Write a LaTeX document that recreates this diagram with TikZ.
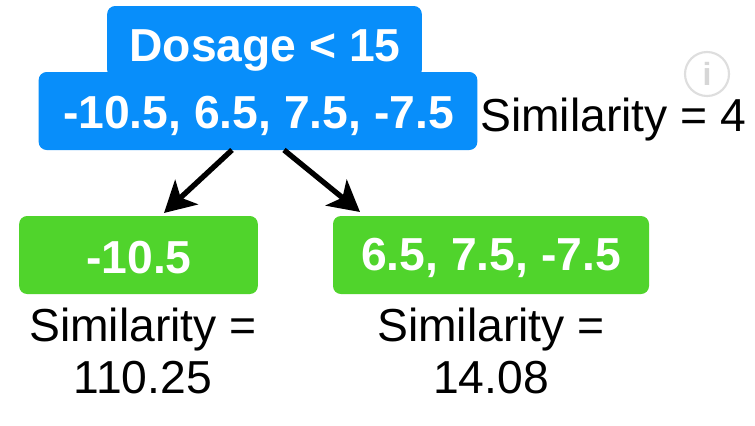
\documentclass[tikz,border=0pt]{standalone}
\usepackage{fontspec}
\setmainfont{Liberation Sans}
\usetikzlibrary{arrows.meta}
\definecolor{bluebox}{RGB}{8,142,250}
\definecolor{greenbox}{RGB}{80,212,44}
\tikzset{
  px/.style={x=0.75pt,y=-0.75pt},
  box/.style={rounded corners=6pt,inner sep=0pt,text=white,font=\bfseries\fontsize{34.7}{34.7}\selectfont},
  boxtext/.style={inner sep=0pt,text=white,font=\bfseries\fontsize{34.7}{34.7}\selectfont},
  lab/.style={inner sep=0pt,text=black,font=\fontsize{34.7}{39.5}\selectfont,align=center},
  arr/.style={line width=4pt,-{Stealth[length=23pt,width=25pt,inset=6pt]}}
}
\begin{document}
\begin{tikzpicture}[px]
\useasboundingbox (0,0) rectangle (755,425);
\fill[white] (0,0) rectangle (755,425);
\node[box,fill=bluebox,minimum width=236pt,minimum height=54pt] (top) at (264.5,42) {};
\node[boxtext] (toplabel) at (265,50) {Dosage < 15};
\node[box,fill=bluebox,minimum width=329pt,minimum height=58.5pt] (main) at (258,111) {};
\node[boxtext] (mainlabel) at (258.5,116) {-10.5, 6.5, 7.5, -7.5};
\node[box,fill=greenbox,minimum width=179pt,minimum height=58.5pt] (left) at (138.5,255) {};
\node[boxtext] (leftlabel) at (139,258) {-10.5};
\node[box,fill=greenbox,minimum width=237pt,minimum height=58.5pt] (right) at (491,255) {};
\node[boxtext] (rightlabel) at (491,258) {6.5, 7.5, -7.5};
\coordinate (a1s) at (232,150);
\coordinate (a1e) at (164,213);
\coordinate (a2s) at (284,150);
\coordinate (a2e) at (360,212);
\draw[arr] (a1s) -- (a1e);
\draw[arr] (a2s) -- (a2e);
\node[lab,anchor=west] (s0) at (480,120) {Similarity = 4};
\node[lab] (s1) at (143,351) {Similarity =\\110.25};
\node[lab] (s2) at (491,351) {Similarity =\\14.08};
\node[draw=black!13,line width=1.6pt,circle,minimum size=33pt,inner sep=0pt,text=black!16,font=\bfseries\fontsize{24}{24}\selectfont] (info) at (707,74) {i};
\end{tikzpicture}
\end{document}
